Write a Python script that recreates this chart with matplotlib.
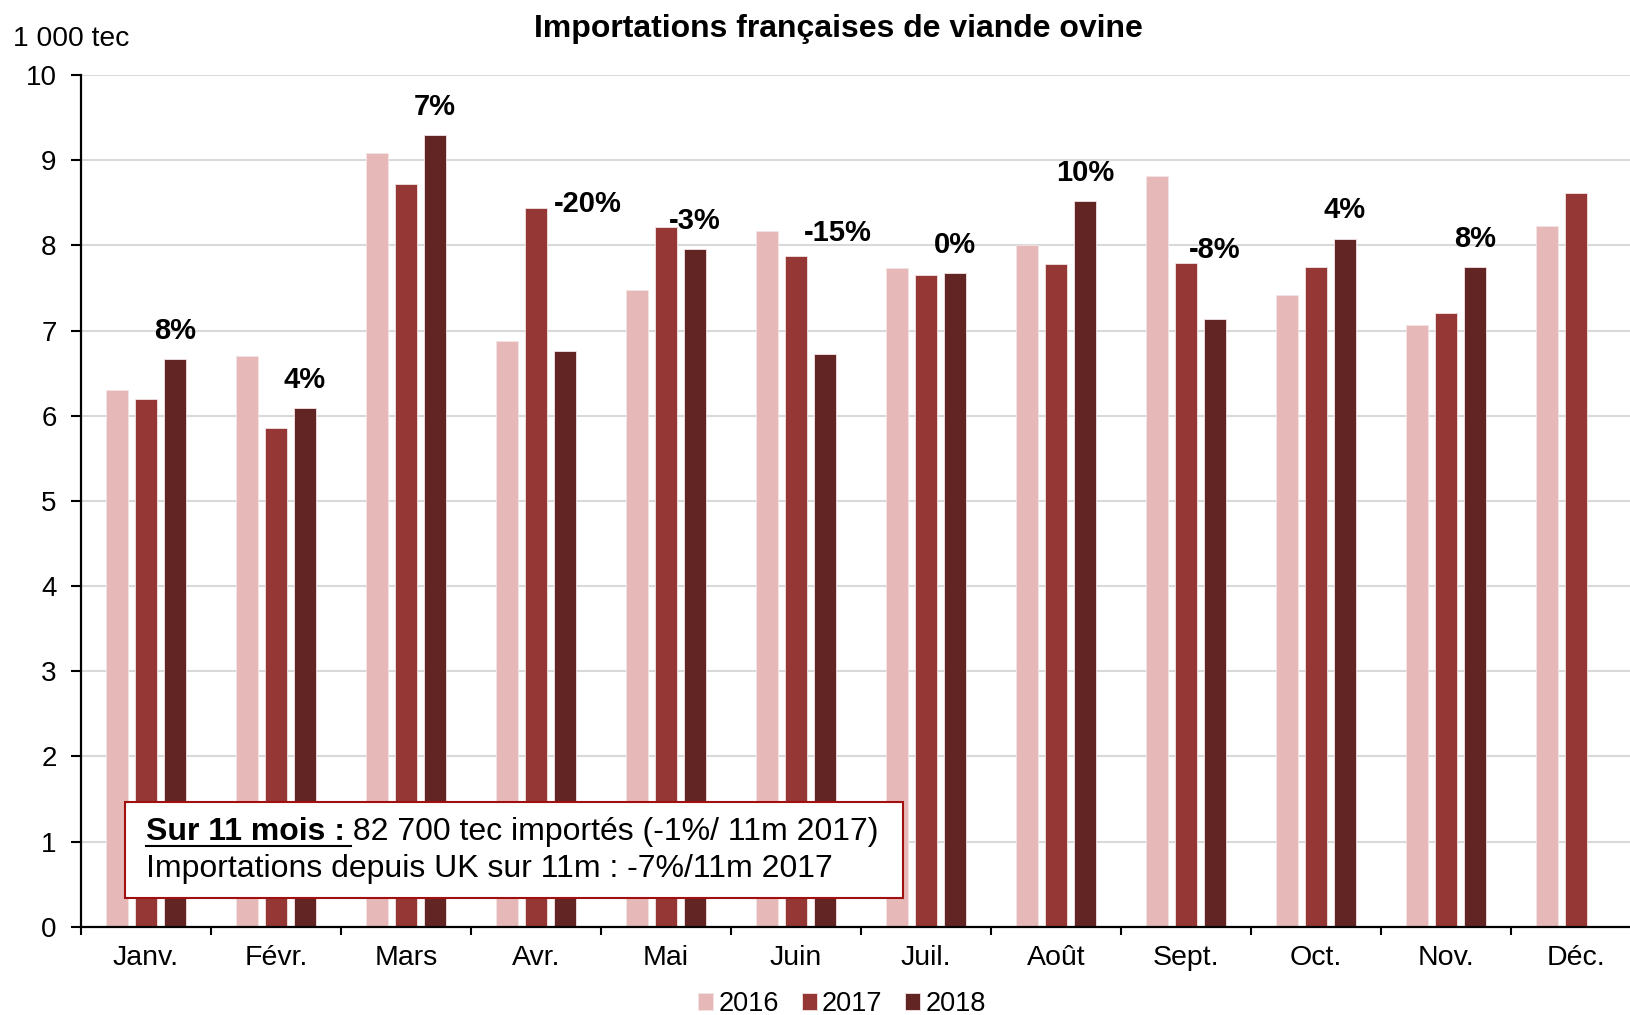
import matplotlib
matplotlib.use("Agg")
import matplotlib.pyplot as plt
import numpy as np
from matplotlib.patches import Rectangle
from matplotlib.lines import Line2D

plt.rcParams['font.family'] = ['Liberation Sans', 'DejaVu Sans']

# ---------------- data ----------------
months = ['Janv.', 'Févr.', 'Mars', 'Avr.', 'Mai', 'Juin', 'Juil.', 'Août',
          'Sept.', 'Oct.', 'Nov.', 'Déc.']
years = ['2016', '2017', '2018']
v2016 = [6.30, 6.70, 9.08, 6.88, 7.47, 8.17, 7.73, 8.00, 8.81, 7.42, 7.06, 8.23]
v2017 = [6.19, 5.85, 8.72, 8.44, 8.21, 7.88, 7.65, 7.78, 7.79, 7.75, 7.21, 8.62]
v2018 = [6.67, 6.09, 9.30, 6.76, 7.96, 6.72, 7.67, 8.52, 7.13, 8.08, 7.75]
var_labels = ['8%', '4%', '7%', '-20%', '-3%', '-15%', '0%', '10%', '-8%', '4%', '8%']

title = 'Importations françaises de viande ovine'
unit_label = '1 000 tec'
box_bold = 'Sur 11 mois :'
box_line1 = ' 82 700 tec importés (-1%/ 11m 2017)'
box_line2 = 'Importations depuis UK sur 11m : -7%/11m 2017'

# ---------------- style ----------------
colors = ['#E6B9B8', '#953735', '#632523']
W, H = 1630, 1015
fig = plt.figure(figsize=(W / 100, H / 100), dpi=100)
ax = fig.add_axes([81 / W, 88.3 / H, 1560 / W, 851.7 / H])

pitch = 0.223
width = 0.173
x = np.arange(len(months))
series = [v2016, v2017, v2018]
for k, (vals, c, lab) in enumerate(zip(series, colors, years)):
    xs = x[:len(vals)] + (k - 1) * pitch
    ax.bar(xs, vals, width=width, color=c, label=lab, zorder=3,
           edgecolor='#F4E4E4', linewidth=0.6)

# variation labels (placement tweaks for crowded months)
label_dx = {3: 0.40, 5: 0.32}
label_y = {3: 8.48, 5: 8.15, 8: 7.95}
for i, txt in enumerate(var_labels):
    lx = i + label_dx.get(i, pitch)
    ly = label_y.get(i, v2018[i] + 0.33)
    ax.text(lx, ly, txt, ha='center', va='center', fontsize=21,
            fontweight='bold', color='black', zorder=5)

ax.set_xlim(-0.5, 11.5)
ax.set_ylim(0, 10)
ax.set_yticks(np.arange(0, 11, 1))
ax.set_yticklabels([str(v) for v in range(11)], fontsize=20)
ax.set_xticks(x)
ax.set_xticklabels(months, fontsize=20.5)
ax.set_xticks(np.arange(-0.5, 12, 1), minor=True)
ax.tick_params(axis='x', which='major', length=0, pad=13)
ax.tick_params(axis='x', which='minor', length=6, width=1.5, direction='out')
ax.tick_params(axis='y', which='major', length=7, width=1.5, direction='out', pad=10.5)
ax.yaxis.grid(True, color='#D9D9D9', linewidth=1.5, zorder=0)
ax.set_axisbelow(True)
for s in ['top', 'right']:
    ax.spines[s].set_visible(False)
for s in ['left', 'bottom']:
    ax.spines[s].set_linewidth(1.6)
    ax.spines[s].set_color('black')
    ax.spines[s].set_zorder(4)

fig.text(838.5 / W, 1 - 29 / H, title, ha='center', va='center',
         fontsize=23, fontweight='bold')
fig.text(13 / W, 1 - 39 / H, unit_label, ha='left', va='center', fontsize=20.3)

# legend
fig.legend(loc='center', bbox_to_anchor=(842 / W, 1 - 1004 / H), ncol=3,
           frameon=False, fontsize=19.5, handlelength=0.55, handleheight=0.55,
           handletextpad=0.2, columnspacing=0.85, borderaxespad=0)

# annotation box
box = Rectangle((125 / W, 1 - 898 / H), (903 - 125) / W, (898 - 801.5) / H,
                transform=fig.transFigure, facecolor='white',
                edgecolor='#A01010', linewidth=1.5, zorder=10)
fig.add_artist(box)
fs_box = 23
t1 = fig.text(145.5 / W, 1 - 832 / H, box_bold, ha='left', va='center',
              fontsize=fs_box, fontweight='bold', zorder=11)
fig.canvas.draw()
r = fig.canvas.get_renderer()
bb = t1.get_window_extent(r)
t2 = fig.text(bb.x1 / W, 1 - 832 / H, box_line1, ha='left', va='center',
              fontsize=fs_box, zorder=11)
space_w = 6
uy = bb.y0 + 1
fig.add_artist(Line2D([bb.x0 / W, (bb.x1 + space_w) / W], [uy / H, uy / H],
                      transform=fig.transFigure, color='black', linewidth=1.5,
                      zorder=11))
fig.text(145.5 / W, 1 - 869 / H, box_line2, ha='left', va='center',
         fontsize=fs_box, zorder=11)

fig.savefig('out.png', dpi=100)
